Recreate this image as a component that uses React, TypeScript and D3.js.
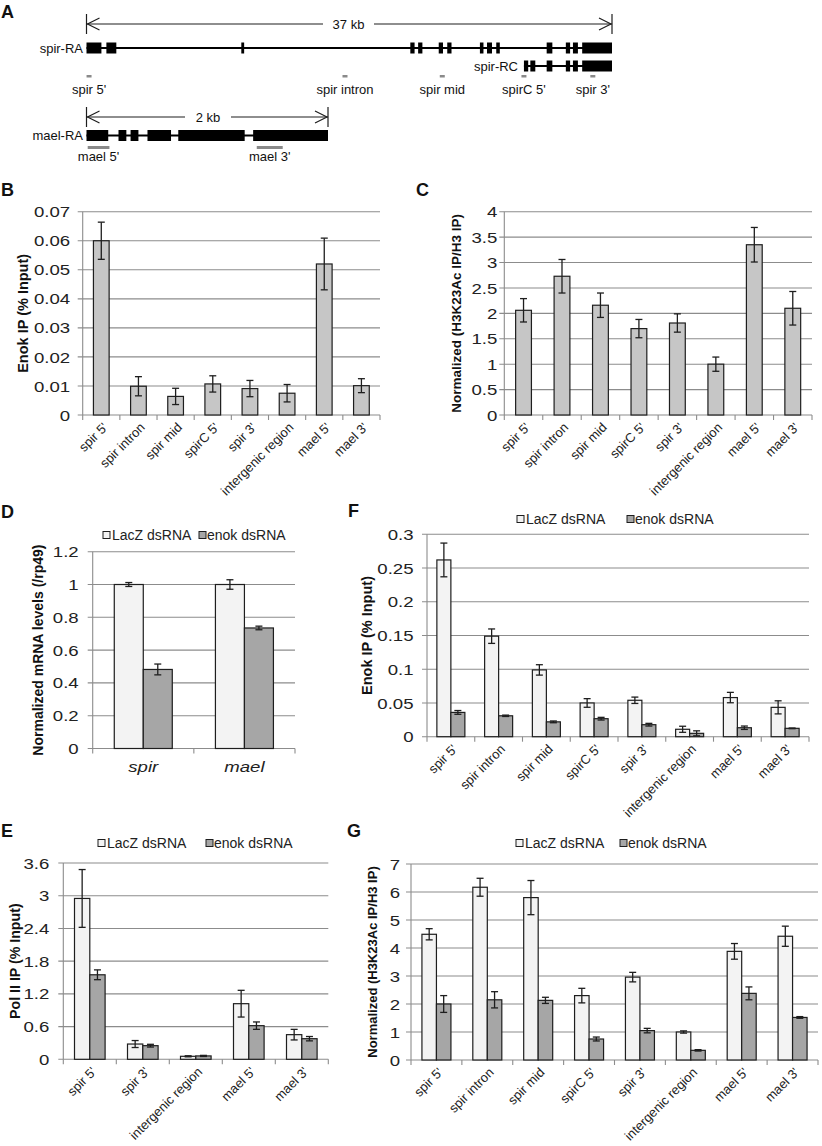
import * as d3 from "d3";

const FONT = "'Liberation Sans', Arial, Helvetica, sans-serif";
const INK = "#1e1e1e";
const GRID = "#8c8c8c";

// ---- panel A: gene models (kb from transcript start)
const spirRA = [[0, 1.05], [1.4, 2.1], [10.9, 11.1], [22.8, 23.1], [23.35, 23.65], [24.8, 25.1], [25.4, 25.7], [27.7, 27.95], [28.2, 28.55], [28.85, 29.1], [32.4, 32.8], [33.75, 34.05], [34.25, 34.6], [34.9, 37]];
const spirRC = [[30.8, 31.1], [31.25, 31.6], [32.4, 32.8], [33.75, 34.05], [34.25, 34.6], [34.9, 37]];
const spirPrimers = [0.18, 18.2, 25.05, 30.8, 35.65];
const spirPrimerNames = ["spir 5'", "spir intron", "spir mid", "spirC 5'", "spir 3'"];
const maelRA = [[0, 0.18], [0.265, 0.33], [0.365, 0.43], [0.505, 0.7], [0.76, 1.31], [1.38, 2]];
const maelPrimers = [[0.01, 0.19], [1.41, 1.625]];
const maelPrimerNames = ["mael 5'", "mael 3'"];

// ---- categories
const probes8 = ["spir 5'", "spir intron", "spir mid", "spirC 5'", "spir 3'", "intergenic region", "mael 5'", "mael 3'"];
const probes5 = ["spir 5'", "spir 3'", "intergenic region", "mael 5'", "mael 3'"];
const genesD = ["spir", "mael"];

// ---- B: Enok IP
const enokIP = [0.060, 0.0099, 0.0064, 0.0107, 0.0091, 0.0075, 0.052, 0.0101];
const enokIPErr = [0.0064, 0.0033, 0.0028, 0.0028, 0.0028, 0.003, 0.0089, 0.0024];
const ticksB = ["0", "0.01", "0.02", "0.03", "0.04", "0.05", "0.06", "0.07"];

// ---- C: H3K23Ac / H3
const h3Ratio = [2.06, 2.73, 2.16, 1.70, 1.81, 1.0, 3.35, 2.1];
const h3RatioErr = [0.23, 0.33, 0.24, 0.18, 0.18, 0.14, 0.34, 0.33];
const ticksC = ["0", "0.5", "1", "1.5", "2", "2.5", "3", "3.5", "4"];

// ---- D: mRNA levels
const mrnaLacZ = [1.0, 1.0];
const mrnaLacZErr = [0.012, 0.029];
const mrnaEnok = [0.482, 0.735];
const mrnaEnokErr = [0.033, 0.011];
const ticksD = ["0", "0.2", "0.4", "0.6", "0.8", "1", "1.2"];

// ---- F: Enok IP after RNAi
const fLacZ = [0.262, 0.149, 0.099, 0.050, 0.054, 0.011, 0.058, 0.0435];
const fLacZErr = [0.025, 0.0107, 0.0077, 0.0064, 0.0047, 0.0045, 0.0077, 0.0097];
const fEnok = [0.036, 0.031, 0.022, 0.0267, 0.0178, 0.005, 0.0133, 0.0124];
const fEnokErr = [0.0028, 0.001, 0.0013, 0.002, 0.002, 0.0037, 0.0025, 0.0005];
const ticksF = ["0", "0.05", "0.1", "0.15", "0.2", "0.25", "0.3"];

// ---- E: Pol II IP
const eLacZ = [2.95, 0.28, 0.055, 1.02, 0.452];
const eLacZErr = [0.53, 0.064, 0.01, 0.245, 0.097];
const eEnok = [1.55, 0.25, 0.062, 0.617, 0.378];
const eEnokErr = [0.09, 0.025, 0.01, 0.068, 0.04];
const ticksE = ["0", "0.6", "1.2", "1.8", "2.4", "3", "3.6"];

// ---- G: H3K23Ac / H3 after RNAi
const gLacZ = [4.49, 6.17, 5.80, 2.30, 2.96, 1.0, 3.88, 4.42];
const gLacZErr = [0.2, 0.32, 0.61, 0.26, 0.17, 0.04, 0.28, 0.36];
const gEnok = [2.0, 2.15, 2.13, 0.75, 1.05, 0.345, 2.38, 1.52];
const gEnokErr = [0.3, 0.29, 0.11, 0.07, 0.08, 0.025, 0.23, 0.03];
const ticksG = ["0", "1", "2", "3", "4", "5", "6", "7"];

const LACZ_FILL = "#f3f3f3";
const ENOK_FILL = "#a6a6a6";
const SINGLE_FILL = "#c6c6c6";

type Series = { values: number[]; errors: number[]; fill: string };

type PanelProps = {
  left: number; right: number; zero: number; top: number;
  ticks: string[]; cats: string[]; series: Series[];
  barW: number; gap: number; title: string; titleX: number; titleSize: number;
  flatCats?: boolean;
};

function BarPanel(p: PanelProps) {
  const max = +p.ticks[p.ticks.length - 1];
  const y = d3.scaleLinear().domain([0, max]).range([p.zero, p.top]);
  const x = d3.scaleBand().domain(p.cats).range([p.left, p.right]);
  const half = (p.barW * p.series.length) / 2;
  const inner = d3.scaleBand().domain(p.series.map((_, i) => String(i))).range([-half, half]);
  const bounds = [...p.cats.map((c) => x(c) as number), p.right];

  return (
    <g fontFamily={FONT}>
      {p.ticks.map((t) => (
        <line key={t} x1={p.left - 5} x2={p.right} y1={y(+t)} y2={y(+t)} stroke={GRID} strokeWidth={1.1} />
      ))}
      <line x1={p.left} x2={p.left} y1={p.zero} y2={p.top} stroke={GRID} strokeWidth={1.1} />
      {bounds.map((b, i) => (
        <line key={i} x1={b} x2={b} y1={p.zero} y2={p.zero + 5} stroke={GRID} strokeWidth={1.1} />
      ))}
      {p.ticks.map((t) => (
        <text key={t} transform={`translate(${p.left - p.gap},${y(+t)}) scale(1.2,1)`} dy="0.36em" textAnchor="end" fontSize={15.5} fill="#222">
          {t}
        </text>
      ))}
      {p.series.map((s, si) =>
        p.cats.map((c, ci) => {
          const cx = (x(c) as number) + x.bandwidth() / 2;
          const bx = cx + (inner(String(si)) as number);
          const v = s.values[ci];
          const e = s.errors[ci];
          const mid = bx + p.barW / 2;
          return (
            <g key={`${si}-${ci}`}>
              <rect x={bx} y={y(v)} width={p.barW} height={p.zero - y(v)} fill={s.fill} stroke={INK} strokeWidth={1.2} />
              <line x1={mid} x2={mid} y1={y(v + e)} y2={y(v - e)} stroke={INK} strokeWidth={1.3} />
              <line x1={mid - 3.5} x2={mid + 3.5} y1={y(v + e)} y2={y(v + e)} stroke={INK} strokeWidth={1.3} />
              <line x1={mid - 3.5} x2={mid + 3.5} y1={y(v - e)} y2={y(v - e)} stroke={INK} strokeWidth={1.3} />
            </g>
          );
        })
      )}
      {p.cats.map((c) => {
        const cx = (x(c) as number) + x.bandwidth() / 2;
        return p.flatCats ? (
          <text key={c} transform={`translate(${cx},${p.zero + 23}) scale(1.2,1)`} textAnchor="middle" fontSize={15.5} fontStyle="italic" fill="#222">
            {c}
          </text>
        ) : (
          <text key={c} transform={`translate(${cx + 4},${p.zero + 10}) rotate(-45)`} textAnchor="end" dy="0.35em" fontSize={13} fill="#222">
            {c}
          </text>
        );
      })}
      <text
        transform={`translate(${p.titleX},${(p.zero + p.top) / 2}) rotate(-90)`}
        textAnchor="middle"
        dominantBaseline="central"
        fontWeight="bold"
        fontSize={p.titleSize}
        fill="#111"
      >
        {p.title}
      </text>
    </g>
  );
}

function Legend({ x1, x2, y }: { x1: number; x2: number; y: number }) {
  return (
    <g fontFamily={FONT} fontSize={14} fill="#222">
      <rect x={x1} y={y - 3.5} width={7} height={7} fill={LACZ_FILL} stroke={INK} strokeWidth={1} />
      <text x={x1 + 9} y={y} dy="0.36em">LacZ dsRNA</text>
      <rect x={x2} y={y - 3.5} width={7} height={7} fill={ENOK_FILL} stroke={INK} strokeWidth={1} />
      <text x={x2 + 8} y={y} dy="0.36em">enok dsRNA</text>
    </g>
  );
}

function ScaleArrow({ x0, x1, y, label, gapL, gapR }: { x0: number; x1: number; y: number; label: string; gapL: number; gapR: number }) {
  return (
    <g stroke={INK} strokeWidth={1.2} fill="none">
      <line x1={x0} x2={x0} y1={y - 10} y2={y + 10} />
      <line x1={x1} x2={x1} y1={y - 10} y2={y + 10} />
      <line x1={x0} x2={gapL} y1={y} y2={y} />
      <line x1={gapR} x2={x1} y1={y} y2={y} />
      <polyline points={`${x0 + 13},${y - 6} ${x0 + 1},${y} ${x0 + 13},${y + 6}`} />
      <polyline points={`${x1 - 13},${y - 6} ${x1 - 1},${y} ${x1 - 13},${y + 6}`} />
      <text x={(gapL + gapR) / 2} y={y} dy="0.36em" textAnchor="middle" stroke="none" fill="#111" fontSize={13} fontFamily={FONT}>
        {label}
      </text>
    </g>
  );
}

function GenePanel() {
  const sx = d3.scaleLinear().domain([0, 37]).range([86.5, 612]);
  const mx = d3.scaleLinear().domain([0, 2]).range([86.5, 328]);
  const exon = (s: d3.ScaleLinear<number, number>, e: number[], yc: number, k: string) => (
    <rect key={k} x={s(e[0])} y={yc - 5.5} width={s(e[1]) - s(e[0])} height={11} fill="#000" />
  );
  return (
    <g fontFamily={FONT} fontSize={13} fill="#111">
      <ScaleArrow x0={sx(0)} x1={sx(37)} y={24} label="37 kb" gapL={323} gapR={374} />
      <text x={83} y={48} dy="0.36em" textAnchor="end">spir-RA</text>
      <line x1={sx(0)} x2={sx(37)} y1={48} y2={48} stroke="#000" strokeWidth={2} />
      {spirRA.map((e, i) => exon(sx, e, 48, `ra${i}`))}
      <text x={518} y={66} dy="0.36em" textAnchor="end">spir-RC</text>
      <line x1={sx(30.8)} x2={sx(37)} y1={66} y2={66} stroke="#000" strokeWidth={2} />
      {spirRC.map((e, i) => exon(sx, e, 66, `rc${i}`))}
      {spirPrimers.map((p, i) => (
        <g key={i}>
          <rect x={sx(p) - 2.5} y={75} width={5} height={2.5} fill="#8a8a8a" />
          <text x={sx(p)} y={89} dy="0.36em" textAnchor="middle">{spirPrimerNames[i]}</text>
        </g>
      ))}
      <ScaleArrow x0={mx(0)} x1={mx(2)} y={117} label="2 kb" gapL={185} gapR={231} />
      <text x={83} y={135.5} dy="0.36em" textAnchor="end">mael-RA</text>
      <line x1={mx(0)} x2={mx(2)} y1={135.5} y2={135.5} stroke="#000" strokeWidth={2} />
      {maelRA.map((e, i) => exon(mx, e, 135.5, `m${i}`))}
      {maelPrimers.map((p, i) => (
        <g key={i}>
          <rect x={mx(p[0])} y={146} width={mx(p[1]) - mx(p[0])} height={3} fill="#8a8a8a" />
          <text x={(mx(p[0]) + mx(p[1])) / 2} y={156} dy="0.36em" textAnchor="middle">{maelPrimerNames[i]}</text>
        </g>
      ))}
    </g>
  );
}

const letters: [string, number, number][] = [
  ["A", 1, 18], ["B", 1, 196], ["C", 416, 196], ["D", 1, 518], ["F", 348, 517], ["E", 1, 837], ["G", 347, 837],
];

export default function App() {
  return (
    <svg width={822} height={1146} style={{ position: "absolute", left: 0, top: 0, background: "#fff" }}>
      <rect width={822} height={1146} fill="#fff" />
      {letters.map(([t, x, y]) => (
        <text key={t} x={x} y={y} fontFamily={FONT} fontWeight="bold" fontSize={18} fill="#111">{t}</text>
      ))}
      <GenePanel />
      <BarPanel left={82.7} right={380} zero={415} top={211.7} ticks={ticksB} cats={probes8}
        series={[{ values: enokIP, errors: enokIPErr, fill: SINGLE_FILL }]} barW={15.7} gap={12.5}
        title="Enok IP (% Input)" titleX={23} titleSize={14.5} />
      <BarPanel left={504.3} right={812} zero={415} top={211.7} ticks={ticksC} cats={probes8}
        series={[{ values: h3Ratio, errors: h3RatioErr, fill: SINGLE_FILL }]} barW={15.8} gap={7}
        title="Normalized (H3K23Ac IP/H3 IP)" titleX={456} titleSize={13.5} />
      <Legend x1={103} x2={199} y={535} />
      <BarPanel left={92.7} right={295} zero={748.5} top={551.7} ticks={ticksD} cats={genesD}
        series={[{ values: mrnaLacZ, errors: mrnaLacZErr, fill: LACZ_FILL }, { values: mrnaEnok, errors: mrnaEnokErr, fill: ENOK_FILL }]}
        barW={29} gap={14} title="Normalized mRNA levels (/rp49)" titleX={38} titleSize={14} flatCats />
      <Legend x1={517} x2={627} y={519} />
      <BarPanel left={427} right={809} zero={736.7} top={534.3} ticks={ticksF} cats={probes8}
        series={[{ values: fLacZ, errors: fLacZErr, fill: LACZ_FILL }, { values: fEnok, errors: fEnokErr, fill: ENOK_FILL }]}
        barW={14} gap={13.5} title="Enok IP (% Input)" titleX={367} titleSize={14.5} />
      <Legend x1={98} x2={206} y={843} />
      <BarPanel left={63.3} right={328.3} zero={1059.3} top={863} ticks={ticksE} cats={probes5}
        series={[{ values: eLacZ, errors: eLacZErr, fill: LACZ_FILL }, { values: eEnok, errors: eEnokErr, fill: ENOK_FILL }]}
        barW={15.3} gap={14} title="Pol II IP (% Input)" titleX={15} titleSize={14.2} />
      <Legend x1={516} x2={620} y={843} />
      <BarPanel left={411} right={818} zero={1060} top={864} ticks={ticksG} cats={probes8}
        series={[{ values: gLacZ, errors: gLacZErr, fill: LACZ_FILL }, { values: gEnok, errors: gEnokErr, fill: ENOK_FILL }]}
        barW={14.5} gap={11} title="Normalized (H3K23Ac IP/H3 IP)" titleX={372} titleSize={13} />
    </svg>
  );
}
